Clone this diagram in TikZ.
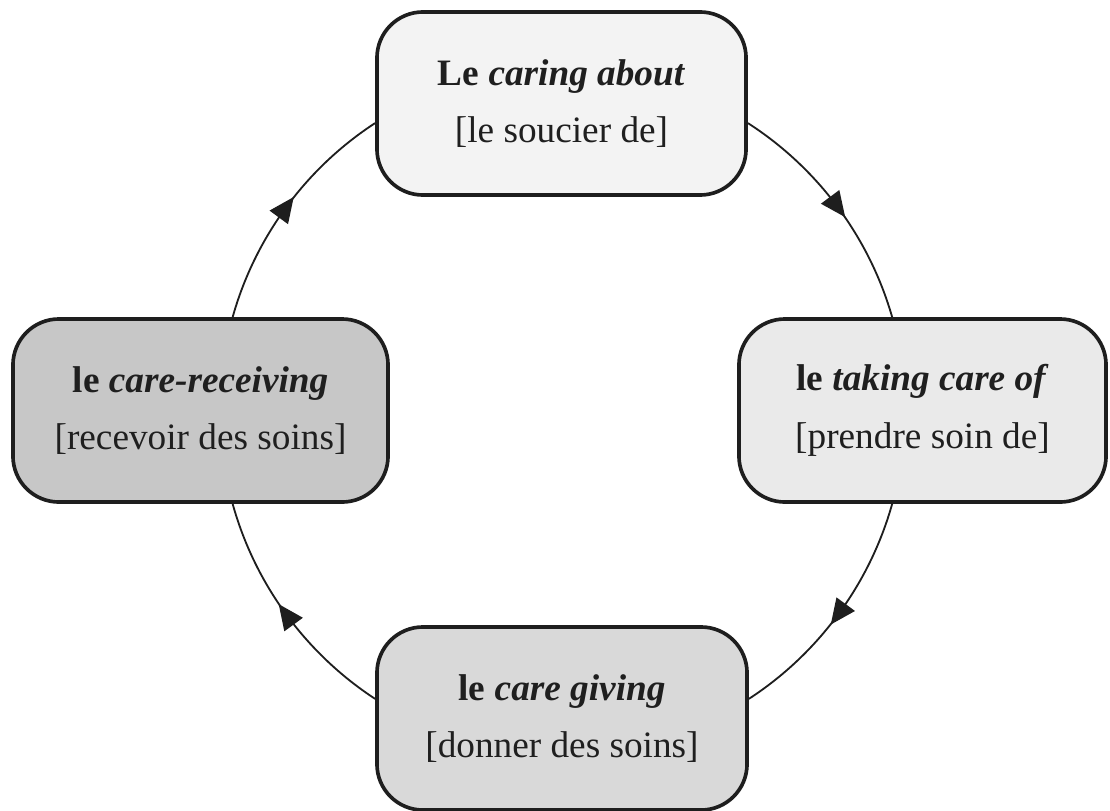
\documentclass[tikz,border=0pt]{standalone}
\usepackage{fontspec}
\setmainfont{Liberation Serif}
\usetikzlibrary{arrows.meta}
\usetikzlibrary{decorations.markings}
\definecolor{boxline}{HTML}{1E1E1E}
\definecolor{fillabout}{HTML}{F3F3F3}
\definecolor{filltaking}{HTML}{EAEAEA}
\definecolor{fillgiving}{HTML}{D9D9D9}
\definecolor{fillreceiving}{HTML}{C7C7C7}
\tikzset{stage/.style={draw=boxline, line width=2.6pt, rounded corners=1.15cm, minimum width=#1, minimum height=4.575cm, align=center, text=black!88, font=\fontsize{26.5}{41}\selectfont},
	careflow/.style={draw=boxline, line width=1.3pt, bend left=20.65, looseness=0.88, postaction={decorate}, decoration={markings, mark=at position 0.5 with {\arrow[xshift=9pt]{Triangle[length=18pt,width=16pt]}}}}}

\begin{document}
\begin{tikzpicture}[x=0.025cm, y=-0.025cm]
	\useasboundingbox (0,0) rectangle (1110,810);
	\node[stage=9.225cm, fill=fillabout] (about) at (561.5,103.5) {\textbf{Le \textit{caring about}}\\ {[le soucier de]}};
	\node[stage=9.175cm, fill=filltaking] (taking) at (922.5,410.5) {\textbf{le \textit{taking care of}}\\ {[prendre soin de]}};
	\node[stage=9.25cm, fill=fillgiving] (giving) at (562,718.5) {\textbf{le \textit{care giving}}\\ {[donner des soins]}};
	\node[stage=9.375cm, fill=fillreceiving] (receiving) at (200.5,410.5) {\textbf{le \textit{care-receiving}}\\ {[recevoir des soins]}};
	\draw[careflow] (about.-6) to (taking.108.5);
	\draw[careflow] (taking.-108.5) to (giving.6);
	\draw[careflow] (giving.174) to (receiving.-71.7);
	\draw[careflow] (receiving.71.7) to (about.186);
\end{tikzpicture}
\end{document}
